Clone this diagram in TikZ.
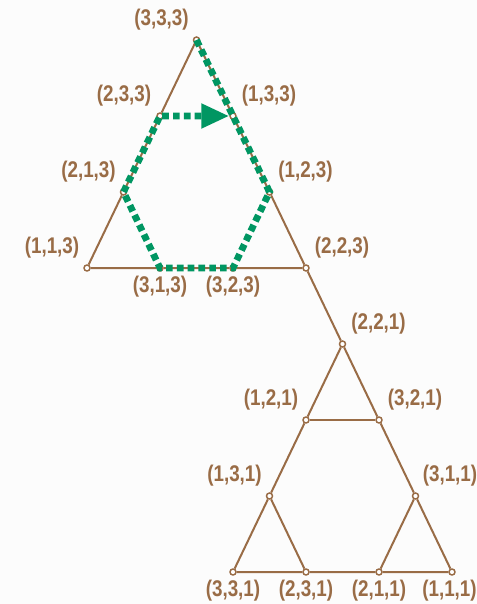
\documentclass[tikz,border=0pt]{standalone}
\usepackage{fontspec}
\setmainfont{Liberation Sans}[FakeStretch=0.83]
\usetikzlibrary{arrows.meta}

\definecolor{hanoibrown}{RGB}{153,108,70}
\definecolor{hanoigreen}{RGB}{0,150,98}

\begin{document}
\begin{tikzpicture}[x=0.75pt,y=0.75pt,yscale=-1,xscale=1,
  vtx/.style={circle,draw=hanoibrown,fill=white,line width=1.1pt,inner sep=0pt,minimum size=4.5pt},
  lbl/.style={text=hanoibrown,font=\fontsize{17}{19}\selectfont\bfseries,inner sep=0pt},
  edge/.style={draw=hanoibrown,line width=1.5pt},
  move/.style={draw=hanoigreen,line width=5.1pt,dash pattern=on 5pt off 3.1pt,
    -{Triangle[length=21pt,width=17.5pt]}}]
%Background
\fill [fill={rgb, 255:red, 252; green, 252; blue, 252 }] (0,0) rectangle (477,604);
\useasboundingbox (0,0) rectangle (477,604);
%Vertices, upper triangle
\node [vtx] (v333) at (196.5,40) {};
\node [vtx] (v233) at (160,116) {};
\node [vtx] (v133) at (233,116) {};
\node [vtx] (v213) at (123.5,192) {};
\node [vtx] (v123) at (269.5,192) {};
\node [vtx] (v113) at (87,268) {};
\node [vtx] (v313) at (160,268) {};
\node [vtx] (v323) at (233,268) {};
\node [vtx] (v223) at (306,268) {};
%Vertices, lower triangle
\node [vtx] (v221) at (342.5,344) {};
\node [vtx] (v121) at (306,420) {};
\node [vtx] (v321) at (379,420) {};
\node [vtx] (v131) at (269.5,496) {};
\node [vtx] (v311) at (415.5,496) {};
\node [vtx] (v331) at (233,572) {};
\node [vtx] (v231) at (306,572) {};
\node [vtx] (v211) at (379,572) {};
\node [vtx] (v111) at (452,572) {};
%Straight Lines
\draw [edge] (v333) -- (v233) -- (v213) -- (v113) -- (v313) -- (v323) -- (v223) -- (v123) -- (v133) -- (v333) ;
\draw [edge] (v223) -- (v221) ;
\draw [edge] (v221) -- (v121) -- (v131) -- (v331) -- (v231) -- (v211) -- (v111) -- (v311) -- (v321) -- (v221) ;
\draw [edge] (v121) -- (v321) ;
\draw [edge] (v131) -- (v231) ;
\draw [edge] (v311) -- (v211) ;
%Dashed move path
\draw [move] (v333.center) -- (v133.center) -- (v123.center) -- (v323.center) -- (v313.center) -- (v213.center) -- (v233.center) -- (v133) ;
% Text Node
\node [lbl] (l333) at (161.5,20) {(3,3,3)};
\node [lbl] (l233) at (124,96) {(2,3,3)};
\node [lbl] (l133) at (269,96) {(1,3,3)};
\node [lbl] (l213) at (88.5,172) {(2,1,3)};
\node [lbl] (l123) at (305.5,172) {(1,2,3)};
\node [lbl] (l113) at (52,248) {(1,1,3)};
\node [lbl] (l223) at (342,248) {(2,2,3)};
\node [lbl] (l313) at (160,287) {(3,1,3)};
\node [lbl] (l323) at (233,287) {(3,2,3)};
% Text Node
\node [lbl] (l221) at (378.5,324) {(2,2,1)};
\node [lbl] (l121) at (271,400) {(1,2,1)};
\node [lbl] (l321) at (415,400) {(3,2,1)};
\node [lbl] (l131) at (234.5,476) {(1,3,1)};
\node [lbl] (l311) at (450,476) {(3,1,1)};
\node [lbl] (l331) at (233,591) {(3,3,1)};
\node [lbl] (l231) at (306,591) {(2,3,1)};
\node [lbl] (l211) at (379,591) {(2,1,1)};
\node [lbl] (l111) at (449.5,591) {(1,1,1)};
\end{tikzpicture}
\end{document}
